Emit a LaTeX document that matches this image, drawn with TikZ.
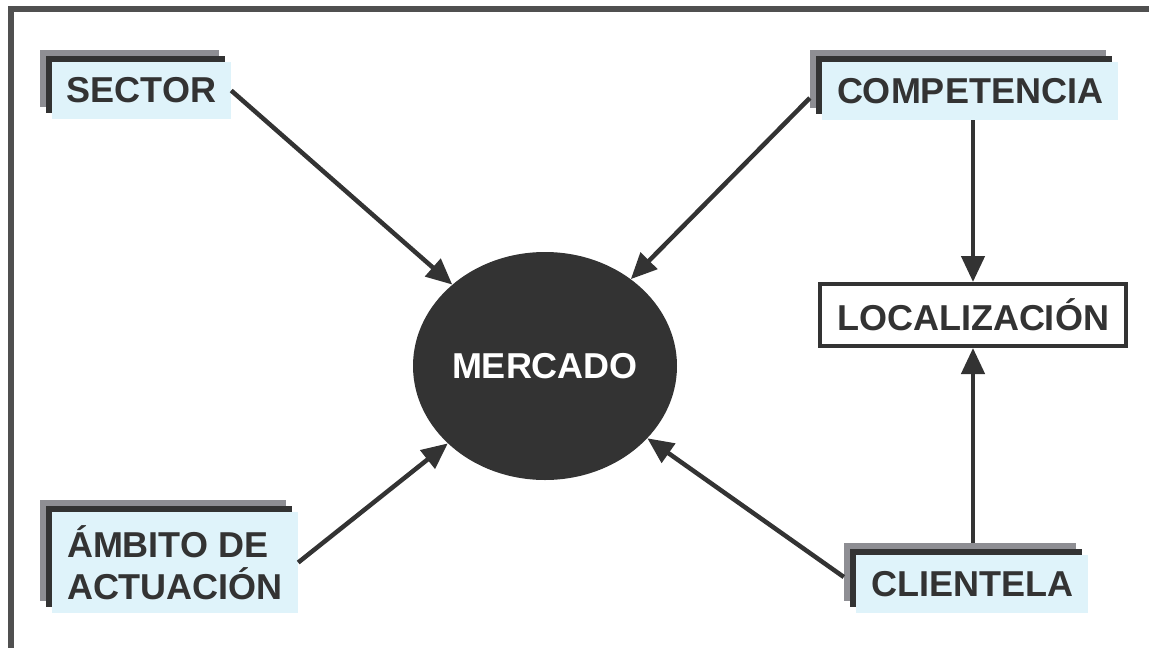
\documentclass[tikz,border=0pt]{standalone}
\usepackage{fontspec}
\setmainfont{Liberation Sans}
\usetikzlibrary{arrows.meta,shadows,shapes.geometric}
\definecolor{txt}{HTML}{333333}
\definecolor{boxblue}{HTML}{DFF3FA}
\definecolor{shgray}{HTML}{8E8E93}
\definecolor{framec}{HTML}{505050}
\begin{document}
\begin{tikzpicture}[x=1pt,y=-1pt,
  big/.style={font=\fontsize{36}{42}\selectfont\bfseries},
  lbl/.style={big, text=txt, fill=boxblue, inner sep=0pt, align=left,
    general shadow={shadow xshift=-12pt, shadow yshift=12pt, fill=shgray},
    general shadow={shadow xshift=-6pt, shadow yshift=6pt, fill=txt}},
  arr/.style={draw=txt, line width=4.5pt, -{Triangle[length=26pt,width=23pt]}},
]
\useasboundingbox (0,0) rectangle (1149,648);
\draw[framec, line width=6pt] (11,648) -- (11,9) -- (1149,9);

\node[lbl, minimum width=179pt, minimum height=57pt] (s) at (141.5,90.5) {SECTOR};
\node[lbl, minimum width=296pt, minimum height=58pt] (c) at (970,91) {COMPETENCIA};
\node[lbl, minimum width=246pt, minimum height=101pt] (a) at (175,562.5) {ÁMBITO DE\\ACTUACIÓN};
\node[lbl, minimum width=232pt, minimum height=58pt] (cl) at (972,584) {CLIENTELA};
\node[big, draw=txt, line width=4pt, fill=white, text=txt, inner sep=0pt,
  minimum width=306pt, minimum height=62pt] (l) at (973,315) {LOCALIZACIÓN};
\node[big, ellipse, fill=txt, text=white, inner sep=0pt,
  minimum width=264pt, minimum height=228pt] (m) at (545,366) {MERCADO};

\coordinate (cw) at ([shift={(-12,7)}]c.west);
\coordinate (clw) at ([shift={(-12,-7)}]cl.west);
\path (l.south |- cl.north) ++(0,-12) coordinate (clt);

\draw[arr] (s.east) -- (m);
\draw[arr] (cw) -- (m);
\draw[arr] (a.east) -- (m);
\draw[arr] (clw) -- (m);
\draw[arr] (l.north |- c.south) -- (l.north);
\draw[arr] (clt) -- (l.south);
\end{tikzpicture}
\end{document}
